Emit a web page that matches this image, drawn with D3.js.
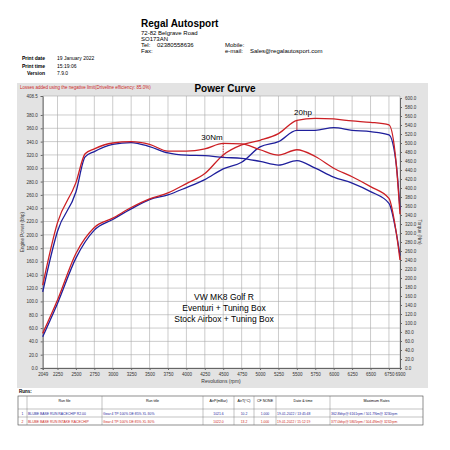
<!doctype html>
<head>
  <meta charset="utf-8">
  <script src="https://cdnjs.cloudflare.com/ajax/libs/d3/7.8.2/d3.min.js"></script>
</head>
<style>
  body { margin: 0; background: white; }
  svg { font-family: Arial, "Liberation Sans", sans-serif; }
</style>
<body>
<div id="chart"></div>
<script>
// rpm grid
const rpmTicks = [2049, 2250, 2500, 2750, 3000, 3250, 3500, 3750, 4000, 4250, 4500, 4750, 5000, 5250, 5500, 5750, 6000, 6250, 6500, 6750, 6900];
const powerTicks = d3.range(0, 400, 20).concat([408.5]);
const torqueTicks = d3.range(0, 601, 20);

// power curves (bhp)
const powerRpm = [2049, 2250, 2500, 2750, 3000, 3250, 3500, 3750, 4000, 4250, 4500, 4750, 5000, 5250, 5500, 5750, 6000, 6250, 6500, 6750, 6850, 6900];
const powerBlue = [47, 97, 165, 207, 223, 239, 253, 260, 271, 283, 299, 309, 332, 340, 357, 357, 361, 357, 355, 350, 305, 238];
const powerRed = [52, 102, 172, 211, 225, 241, 254, 263, 277, 292, 320, 335, 342, 352, 372, 375, 374, 371, 369, 365, 305, 231];

// torque curves (Nm)
const torqueRpm = [2049, 2250, 2500, 2625, 2750, 3000, 3250, 3500, 3750, 4000, 4250, 4500, 4750, 5000, 5250, 5500, 5750, 6000, 6250, 6500, 6750, 6850, 6900];
const torqueBlue = [169, 304, 391, 469, 481, 497, 501, 492, 478, 473, 472, 468, 466, 459, 451, 461, 444, 424, 411, 392, 366, 300, 250];
const torqueRed = [184, 323, 412, 476, 487, 500, 503, 497, 482, 482, 487, 499, 498, 485, 473, 485, 470, 444, 425, 403, 377, 300, 240];

const blue = '#1f1f9c', red = '#cc1f24';

const svg = d3.select('#chart').append('svg').attr('width', 450).attr('height', 450);

// header
const hdr = svg.append('g');
hdr.append('text').attr('x', 141).attr('y', 27).attr('font-size', 10).attr('font-weight', 'bold').text('Regal Autosport');
['72-82 Belgrave Road', 'SO173AN', 'Tel:    02380558636', 'Fax:'].forEach((t, i) =>
  hdr.append('text').attr('x', 141).attr('y', 35 + i * 6).attr('font-size', 6).attr('xml:space', 'preserve').text(t));
hdr.append('text').attr('x', 225).attr('y', 47).attr('font-size', 6).text('Mobile:');
hdr.append('text').attr('x', 225).attr('y', 53).attr('font-size', 6).text('e-mail:');
hdr.append('text').attr('x', 250).attr('y', 53).attr('font-size', 6).text('Sales@regalautosport.com');
[['Print date', '19 January 2022'], ['Print time', '15:19:06'], ['Version', '7.9.0']].forEach((r, i) => {
  hdr.append('text').attr('x', 45).attr('y', 60 + i * 7.5).attr('font-size', 5).attr('font-weight', 'bold').attr('text-anchor', 'end').text(r[0]);
  hdr.append('text').attr('x', 57).attr('y', 60 + i * 7.5).attr('font-size', 5).text(r[1]);
});

// panel
svg.append('rect').attr('x', 17).attr('y', 83).attr('width', 411).attr('height', 305).attr('fill', '#e3e3e3');
svg.append('text').attr('x', 20).attr('y', 89).attr('font-size', 4.5).attr('fill', red).text('Losses added using the negative limit(Driveline efficiency: 85.0%)');
svg.append('text').attr('x', 225).attr('y', 92).attr('font-size', 10).attr('font-weight', 'bold').attr('text-anchor', 'middle').text('Power Curve');

const x = d3.scaleLinear().domain([2049, 6900]).range([42.7, 400]);
const yP = d3.scaleLinear().domain([0, 408.5]).range([368, 96]);
const yT = d3.scaleLinear().domain([0, 600]).range([368, 98]);

const g = svg.append('g');
g.append('rect').attr('x', x(2049)).attr('y', yP(408.5)).attr('width', x(6900) - x(2049)).attr('height', yP(0) - yP(408.5)).attr('fill', 'white');
g.selectAll('.vg').data(rpmTicks).join('line').attr('x1', d => x(d)).attr('x2', d => x(d))
  .attr('y1', yP(0)).attr('y2', yP(408.5)).attr('stroke', '#aaa').attr('stroke-width', 0.6);
g.selectAll('.hg').data(powerTicks).join('line').attr('y1', d => yP(d)).attr('y2', d => yP(d))
  .attr('x1', x(2049)).attr('x2', x(6900)).attr('stroke', '#aaa').attr('stroke-width', 0.6);

const axX = g.append('g').attr('transform', `translate(0,${yP(0)})`)
  .call(d3.axisBottom(x).tickValues(rpmTicks).tickSize(2).tickFormat(d3.format('d')));
const axL = g.append('g').attr('transform', `translate(${x(2049)},0)`)
  .call(d3.axisLeft(yP).tickValues(powerTicks).tickSize(2).tickFormat(d3.format('.1f')));
const axR = g.append('g').attr('transform', `translate(${x(6900)},0)`)
  .call(d3.axisRight(yT).tickValues(torqueTicks).tickSize(2).tickFormat(d3.format('.1f')));
[axX, axL, axR].forEach(a => {
  a.selectAll('text').attr('font-size', 4.5).attr('fill', '#333');
  a.select('.domain').attr('stroke', '#666');
  a.selectAll('.tick line').attr('stroke', '#666');
});

svg.append('text').attr('x', 221).attr('y', 383).attr('font-size', 5).attr('text-anchor', 'middle').attr('fill', '#333').text('Revolutions (rpm)');
svg.append('text').attr('transform', 'translate(24,232) rotate(-90)').attr('font-size', 4.5).attr('text-anchor', 'middle').attr('fill', '#333').text('Engine Power (bhp)');
svg.append('text').attr('transform', 'translate(418,232) rotate(90)').attr('font-size', 4.5).attr('text-anchor', 'middle').attr('fill', '#333').text('Torque (Nm)');

// curves
const lineP = d3.line().x((d, i) => x(powerRpm[i])).y(d => yP(d)).curve(d3.curveMonotoneX);
const lineT = d3.line().x((d, i) => x(torqueRpm[i])).y(d => yT(d)).curve(d3.curveMonotoneX);
[[powerBlue, lineP, blue], [powerRed, lineP, red], [torqueBlue, lineT, blue], [torqueRed, lineT, red]].forEach(([d, l, c]) =>
  g.append('path').attr('d', l(d)).attr('fill', 'none').attr('stroke', c).attr('stroke-width', 1.3));

// annotations
g.append('line').attr('x1', x(4500)).attr('x2', x(4500)).attr('y1', yT(499)).attr('y2', yT(468))
  .attr('stroke', red).attr('stroke-width', 0.8).attr('stroke-dasharray', '1.5,1');
g.append('text').attr('x', 212).attr('y', 140).attr('font-size', 8).attr('text-anchor', 'middle').text('30Nm');
g.append('line').attr('x1', x(5500)).attr('x2', x(5500)).attr('y1', yP(372)).attr('y2', yP(357))
  .attr('stroke', red).attr('stroke-width', 0.8);
g.append('text').attr('x', 303).attr('y', 115).attr('font-size', 8).attr('text-anchor', 'middle').text('20hp');
['VW MK8 Golf R', 'Eventuri + Tuning Box', 'Stock Airbox + Tuning Box'].forEach((t, i) =>
  g.append('text').attr('x', 224).attr('y', 300 + i * 11).attr('font-size', 8.5).attr('text-anchor', 'middle').text(t));

// runs table
svg.append('text').attr('x', 19).attr('y', 393).attr('font-size', 4.5).attr('font-weight', 'bold').text('Runs:');
const colX = [18, 27, 102, 203, 234, 254, 276, 330, 423];
const headers = ['', 'Run file', 'Run title', 'AirP(mBar)', 'AirT(°C)', 'CF NONE', 'Date & time', 'Maximum Rates'];
const rows = [
  ['1', 'BLUBE BASE RUN RACECHIP R2.00', 'Gear:4 TP:100% DE:85% XL:30%', '1021.6', '10.2', '1.000', '19-01-2022 / 13:45:48', '362.8bhp@ 6161rpm / 501.7Nm@ 3230rpm'],
  ['2', 'BLUBE BASE RUN INTAKE RACECHIP', 'Gear:4 TP:100% DE:85% XL:30%', '1022.0', '13.2', '1.000', '19-01-2022 / 15:12:19', '377.0bhp@ 5805rpm / 504.4Nm@ 3232rpm'],
];
const t = svg.append('g');
t.append('rect').attr('x', 18).attr('y', 396).attr('width', 405).attr('height', 29).attr('fill', 'white').attr('stroke', '#444').attr('stroke-width', 0.6);
colX.slice(1, -1).forEach(cx => t.append('line').attr('x1', cx).attr('x2', cx).attr('y1', 396).attr('y2', 425).attr('stroke', '#666').attr('stroke-width', 0.4));
[409, 417].forEach(yy => t.append('line').attr('x1', 18).attr('x2', 423).attr('y1', yy).attr('y2', yy).attr('stroke', '#666').attr('stroke-width', 0.4));
headers.forEach((h, i) => t.append('text').attr('x', (colX[i] + colX[i + 1]) / 2).attr('y', 402).attr('font-size', 3.6).attr('text-anchor', 'middle').text(h));
rows.forEach((r, ri) => r.forEach((v, i) => {
  const left = i === 1 || i === 2 || i === 6 || i === 7;
  t.append('text').attr('x', left ? colX[i] + 1 : (colX[i] + colX[i + 1]) / 2).attr('y', 415 + ri * 8)
    .attr('font-size', 3.4).attr('text-anchor', left ? 'start' : 'middle').attr('fill', ri ? red : blue).text(v);
}));
</script>
</body>
